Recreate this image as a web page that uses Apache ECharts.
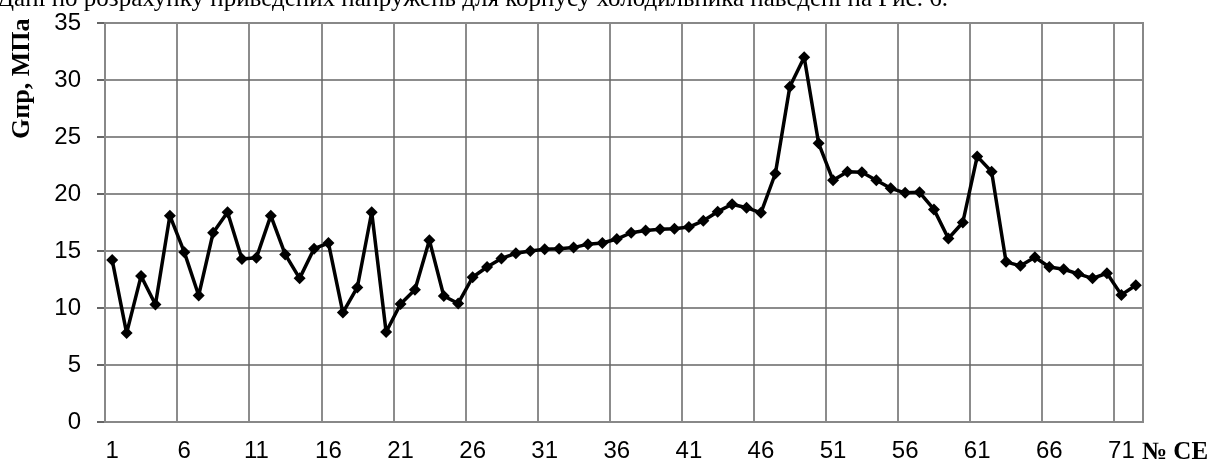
<!DOCTYPE html>
<html>
<head>
<meta charset="utf-8">
<script src="https://cdn.jsdelivr.net/npm/echarts@6/dist/echarts.min.js"></script>
<style>
  html, body { margin: 0; padding: 0; background: #fff; }
  #chart { width: 1215px; height: 464px; }
</style>
</head>
<body>
<div id="chart"></div>
<script>
// номери СЕ
var categories = [];
for (var i = 1; i <= 72; i++) categories.push(String(i));

// приведені напруження, МПа
var stress = [
  14.2, 7.8, 12.8, 10.3, 18.1, 14.9, 11.1, 16.6, 18.4, 14.3,
  14.4, 18.1, 14.7, 12.6, 15.2, 15.7, 9.6, 11.8, 18.4, 7.9,
  10.35, 11.6, 15.95, 11.05, 10.4, 12.7, 13.6, 14.35, 14.8, 15.0,
  15.15, 15.2, 15.3, 15.6, 15.7, 16.05, 16.6, 16.8, 16.9, 16.95,
  17.1, 17.65, 18.45, 19.1, 18.8, 18.35, 21.8, 29.4, 32.0, 24.45,
  21.2, 21.95, 21.9, 21.2, 20.5, 20.1, 20.15, 18.65, 16.1, 17.5,
  23.3, 21.95, 14.05, 13.7, 14.45, 13.6, 13.4, 13.0, 12.6, 13.05,
  11.15, 12.0
];

var topText = 'Дані по розрахунку приведених напружень для корпусу холодильника наведені на Рис. 6.';
var yName = 'Gпр, МПа';
var xName = '№ CE';

var dom = document.getElementById("chart");
var myChart = echarts.init(dom);
var option = {
    animation: false,
    grid: { left: 105, top: 23, right: 72, bottom: 42 },
    xAxis: {
        type: 'category',
        data: categories,
        boundaryGap: true,
        axisLine: { lineStyle: { color: '#333', width: 2 } },
        axisTick: { interval: 4, length: 8, lineStyle: { color: '#333', width: 1.5 } },
        axisLabel: {
            interval: 4, margin: 17,
            fontFamily: 'Liberation Sans', fontSize: 24, color: '#000'
        },
        splitLine: { show: true, interval: 4, lineStyle: { color: '#666', width: 1.5 } }
    },
    yAxis: {
        type: 'value',
        min: 0, max: 35, interval: 5,
        axisLine: { show: true, lineStyle: { color: '#333', width: 2 } },
        axisTick: { show: true, length: 8, lineStyle: { color: '#333', width: 1.5 } },
        axisLabel: {
            margin: 24,
            fontFamily: 'Liberation Sans', fontSize: 24, color: '#000'
        },
        splitLine: { show: true, lineStyle: { color: '#666', width: 1.5 } }
    },
    graphic: [
        {
            type: 'rect', silent: true, z: 5,
            shape: { x: 105, y: 23, width: 1038, height: 399 },
            style: { fill: 'none', stroke: '#888', lineWidth: 2 }
        },
        {
            type: 'text', x: -3, y: -1,
            style: {
                text: topText, fill: '#000',
                font: '25px "Liberation Serif"',
                textAlign: 'left', textVerticalAlign: 'middle'
            }
        },
        {
            type: 'text', x: 22, y: 139, rotation: Math.PI / 2,
            style: {
                text: yName, fill: '#000',
                font: 'bold 26px "Liberation Serif"',
                textAlign: 'left', textVerticalAlign: 'middle'
            }
        },
        {
            type: 'text', x: 1142, y: 453,
            style: {
                text: xName, fill: '#000',
                font: 'bold 25px "Liberation Serif"',
                textAlign: 'left', textVerticalAlign: 'middle'
            }
        }
    ],
    series: [{
        type: 'line',
        data: stress,
        symbol: 'diamond',
        symbolSize: 12,
        showAllSymbol: true,
        lineStyle: { color: '#000', width: 3.5 },
        itemStyle: { color: '#000' }
    }]
};
if (option && typeof option === "object") {
    myChart.setOption(option, true);
}
</script>
</body>
</html>
